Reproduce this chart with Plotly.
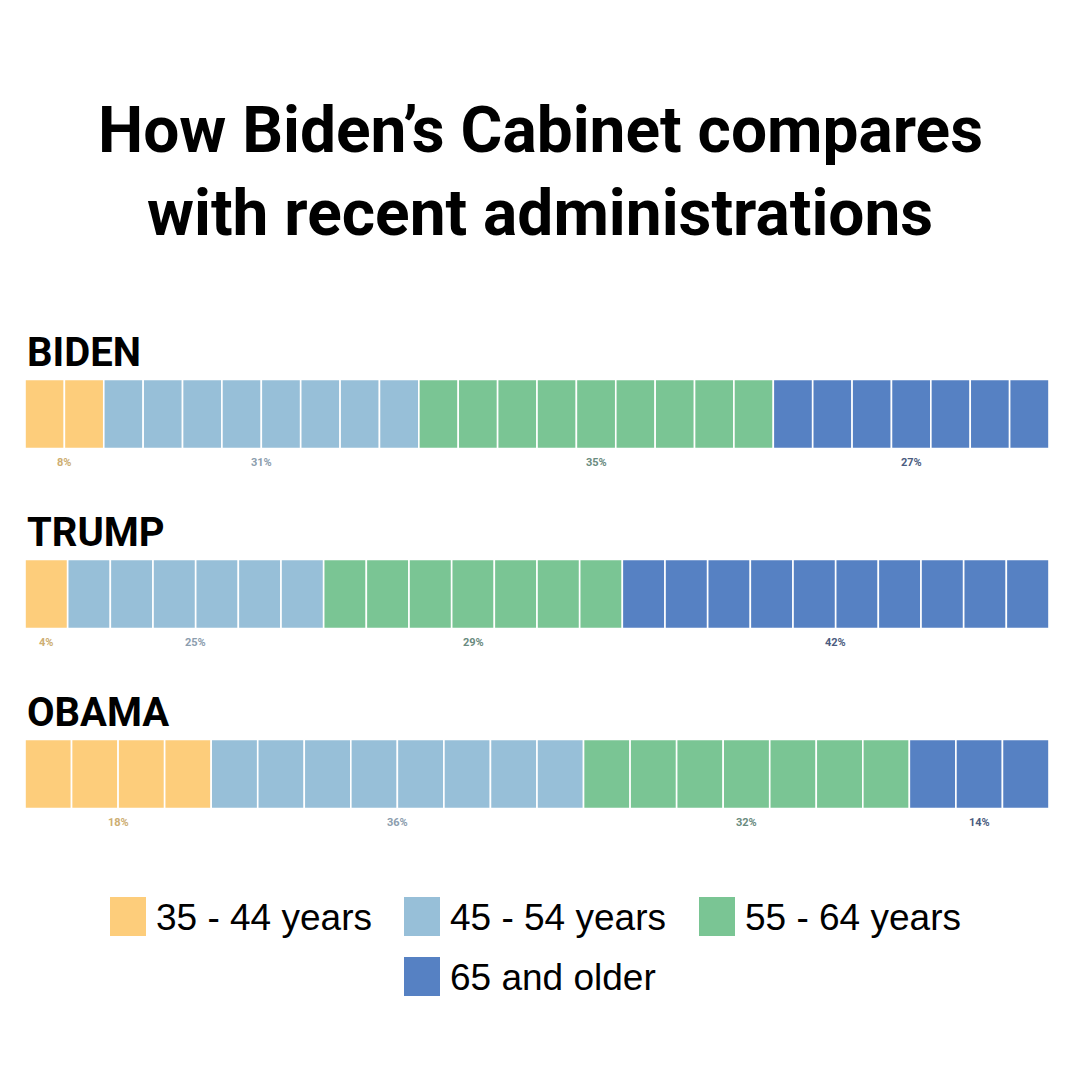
"""
Edad del gabinete: Biden vs Trump vs Obama (celdas apiladas)
"""
import plotly.graph_objects as go

# datos
admins = ['BIDEN', 'TRUMP', 'OBAMA']
age_groups = ['35 - 44 years', '45 - 54 years', '55 - 64 years', '65 and older']
biden_counts = [2, 8, 9, 7]
trump_counts = [1, 6, 7, 10]
obama_counts = [4, 8, 7, 3]

counts = {'BIDEN': biden_counts, 'TRUMP': trump_counts, 'OBAMA': obama_counts}

colors = ['#FDCD7B', '#97BFD8', '#7AC594', '#5681C3']
label_colors = ['#CDAE72', '#8C9DAE', '#6A8B80', '#4B5C80']

OFF = 8                      # margen del body en la página
W = H = 1080 - OFF
BAR_L, BAR_R = 25 - OFF, 1049 - OFF
ROW_SPACING = 180
BAR_PX = 69

xr = [-BAR_L / (BAR_R - BAR_L) * 100, 100 + (W - BAR_R) / (BAR_R - BAR_L) * 100]
y_bottom_px = 774 - OFF      # centro de la fila OBAMA
yr = [-(H - y_bottom_px) / ROW_SPACING, y_bottom_px / ROW_SPACING]

row_y = {name: len(admins) - 1 - i for i, name in enumerate(admins)}

COND = 'Roboto, Liberation Sans, sans-serif'

fig = go.Figure()
annotations = []

# una traza por grupo de edad, cada celda es una barra con su base
for g, group in enumerate(age_groups):
    ys, xs, bases = [], [], []
    for name in admins:
        c = counts[name]
        n = sum(c)
        cell = 100 / n
        start = sum(c[:g]) * cell
        for k in range(c[g]):
            ys.append(row_y[name])
            xs.append(cell)
            bases.append(start + k * cell)
    fig.add_trace(go.Bar(
        x=xs, y=ys, base=bases, orientation='h',
        width=BAR_PX / ROW_SPACING,
        marker=dict(color=colors[g], line=dict(color='white', width=1.6)),
        name=group, showlegend=False, hoverinfo='skip'
    ))

# etiquetas de porcentaje y nombres
for name in admins:
    c = counts[name]
    n = sum(c)
    for g in range(len(age_groups)):
        start = sum(c[:g]) / n * 100
        mid = start + c[g] / n * 50
        annotations.append(dict(
            x=mid, y=row_y[name], xref='x', yref='y', yshift=-48,
            text=f"<b>{round(100 * c[g] / n)}%</b>", showarrow=False,
            font=dict(family=COND, size=11, color=label_colors[g])
        ))
    annotations.append(dict(
        x=0, y=row_y[name], xref='x', yref='y', yshift=62,
        xanchor='left', text=f"<b>{name}</b>", showarrow=False,
        font=dict(family=COND, size=40, color='black')
    ))

# titulo
title_font = dict(family=COND, size=64, color='black')
for text, py in [("How Biden’s Cabinet compares", 130), ("with recent administrations", 213)]:
    annotations.append(dict(
        x=(540 - OFF) / W, y=1 - (py - OFF) / H, xref='paper', yref='paper',
        xanchor='center', yanchor='middle',
        text=f"<b>{text}</b>", showarrow=False, font=title_font
    ))

# leyenda manual (cuadros grandes)
legend_pos = [(110, 917), (404, 917), (699, 917), (404, 977)]
shapes = []
for g, group in enumerate(age_groups):
    lx, ly = legend_pos[g]
    lx, ly = lx - OFF, ly - OFF
    shapes.append(dict(
        type='rect', xref='paper', yref='paper',
        x0=lx / W, x1=(lx + 36) / W, y0=1 - (ly + 19) / H, y1=1 - (ly - 20) / H,
        fillcolor=colors[g], line=dict(width=0)
    ))
    annotations.append(dict(
        x=(lx + 44) / W, y=1 - ly / H, xref='paper', yref='paper',
        xanchor='left', yanchor='middle', text=group, showarrow=False,
        font=dict(family='Liberation Sans, Arial, sans-serif', size=37, color='black')
    ))

fig.update_layout(
    width=W, height=H,
    margin=dict(l=0, r=0, t=0, b=0),
    paper_bgcolor='white', plot_bgcolor='white',
    barmode='overlay',
    xaxis=dict(range=xr, visible=False, fixedrange=True),
    yaxis=dict(range=yr, visible=False, fixedrange=True),
    annotations=annotations,
    shapes=shapes,
    showlegend=False
)

fig.write_html("out.html")
